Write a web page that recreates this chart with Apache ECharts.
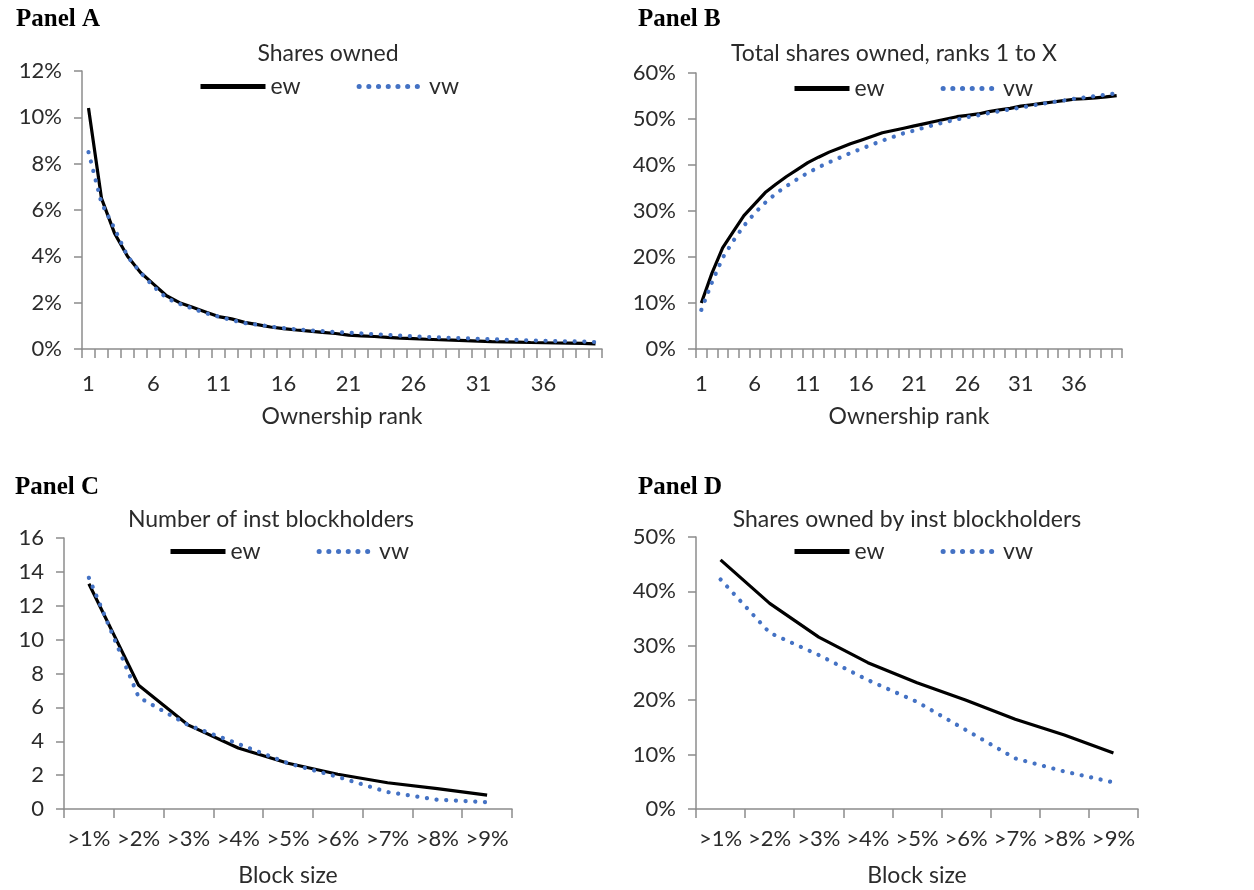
<!DOCTYPE html>
<html>
<head>
<meta charset="utf-8">
<script src="https://cdn.jsdelivr.net/npm/echarts@6/dist/echarts.min.js"></script>
<style>
html,body{margin:0;padding:0;background:#fff;}
#chart{width:1254px;height:890px;}
</style>
</head>
<body>
<div id="chart"></div>
<script>
// ---- data ----
const ranks = ['1','2','3','4','5','6','7','8','9','10','11','12','13','14','15','16','17','18','19','20',
               '21','22','23','24','25','26','27','28','29','30','31','32','33','34','35','36','37','38','39','40'];
const blockSizes = ['>1%','>2%','>3%','>4%','>5%','>6%','>7%','>8%','>9%'];

// Panel A: shares owned (%) by ownership rank
const aEw = [10.4,6.5,5.0,4.0,3.3,2.8,2.3,2.0,1.8,1.6,1.4,1.3,1.15,1.05,0.95,0.88,0.82,0.77,0.72,0.67,
             0.6,0.57,0.54,0.5,0.47,0.45,0.42,0.4,0.38,0.36,0.34,0.32,0.31,0.3,0.28,0.27,0.26,0.25,0.24,0.22];
const aVw = [8.5,6.3,5.2,4.0,3.3,2.7,2.2,1.95,1.75,1.55,1.4,1.25,1.12,1.05,0.97,0.9,0.85,0.8,0.77,0.73,
             0.7,0.67,0.64,0.61,0.58,0.55,0.52,0.5,0.48,0.46,0.44,0.42,0.4,0.39,0.37,0.36,0.34,0.33,0.32,0.3];
// Panel B: total shares owned, ranks 1 to X (%)
const bEw = [10,16.5,22,25.5,29,31.5,34,35.8,37.5,39,40.5,41.7,42.8,43.7,44.6,45.4,46.2,47,47.5,48,
             48.5,49,49.5,50,50.5,50.8,51.1,51.6,52,52.3,52.8,53.1,53.4,53.7,54,54.3,54.4,54.6,54.8,55.1];
const bVw = [8.5,14.5,19.8,23.5,26.8,29.5,31.8,33.8,35.4,36.9,38.3,39.5,40.6,41.6,42.6,43.5,44.4,45.3,46.1,46.9,
             47.5,48.2,48.8,49.4,49.9,50.4,50.8,51.3,51.7,52.1,52.5,52.9,53.3,53.7,54,54.4,54.7,55,55.3,55.6];
// Panel C: number of inst blockholders
const cEw = [13.3,7.3,4.95,3.6,2.7,2.05,1.55,1.2,0.82];
const cVw = [13.65,6.6,4.95,3.85,2.7,1.9,1.0,0.55,0.4];
// Panel D: shares owned by inst blockholders (%)
const dEw = [45.8,37.8,31.6,26.9,23.2,20,16.5,13.6,10.3];
const dVw = [42.2,32.4,28.3,23.7,19.7,14.5,9.3,6.9,4.9];

// ---- styling ----
const FONT = 'Lato';
const TXT = '#2b2b2b';
const AXC = '#8c8c8c';
const FS = 23;
const EW_STYLE = {color:'#000000', width:3.2, type:'solid'};
const VW_STYLE = {color:'#4472C4', width:4.2, type:[0.1, 9.6], cap:'round'};
const EW_LEG = {color:'#000000', width:5, type:'solid', opacity:1};
const VW_LEG = {color:'#4472C4', width:5, type:[0.1, 9.6], cap:'round', opacity:1};

const grids = [
  {left:82, right:652, top:71, bottom:541},
  {left:696, right:132, top:73, bottom:541},
  {left:64, right:742, top:538, bottom:81},
  {left:696, right:116, top:537, bottom:81}
];

function xAxisFor(i, cats, isRank, name, margin) {
  return {
    type:'category', gridIndex:i, data:cats, boundaryGap:true,
    name:name, nameLocation:'middle', nameGap: isRank ? 56 : 55,
    nameTextStyle:{fontFamily:FONT, fontSize:FS, color:TXT},
    axisLine:{lineStyle:{color:AXC, width:1.5}},
    axisTick:{show:true, interval:0, length:9, lineStyle:{color:AXC, width:1.5}},
    axisLabel:{interval: isRank ? 4 : 0, fontFamily:FONT, fontSize:22, color:TXT, margin:margin},
    splitLine:{show:false}
  };
}
function yAxisFor(i, max, interval, pct) {
  return {
    type:'value', gridIndex:i, min:0, max:max, interval:interval,
    axisLine:{show:true, lineStyle:{color:AXC, width:1.5}},
    axisTick:{show:true, length:8, lineStyle:{color:AXC, width:1.5}},
    axisLabel:{fontFamily:FONT, fontSize:22, color:TXT, margin:20,
      formatter: pct ? '{value}%' : '{value}'},
    splitLine:{show:false}
  };
}
function lineSeries(name, i, data, style) {
  return {
    type:'line', name:name, xAxisIndex:i, yAxisIndex:i, data:data,
    symbol:'none', showSymbol:false, smooth:false, lineStyle:style, color:style.color,
    animation:false
  };
}
function legendFor(i, left, top, w) {
  return {
    left:left, top:top, itemWidth:w, itemHeight:14, itemGap:56,
    data:[
      {name:'ew', itemStyle:{opacity:0}, lineStyle:EW_LEG},
      {name:'vw', itemStyle:{opacity:0}, lineStyle:VW_LEG}
    ],
    itemStyle:{opacity:0},
    textStyle:{fontFamily:FONT, fontSize:FS, color:TXT},
    selectedMode:false
  };
}
function titleFor(text, cx, top) {
  return {text:text, left:cx, top:top, textAlign:'center',
    textStyle:{fontFamily:FONT, fontSize:FS, fontWeight:'normal', color:TXT}};
}
function panelLabel(text, left, top) {
  return {text:text, left:left, top:top,
    textStyle:{fontFamily:'Liberation Serif', fontSize:25, fontWeight:'bold', color:'#000'}};
}

const option = {
  backgroundColor:'#ffffff',
  animation:false,
  title:[
    panelLabel('Panel A', 11, 2),
    panelLabel('Panel B', 633, 2),
    panelLabel('Panel C', 10, 470),
    panelLabel('Panel D', 633, 470),
    titleFor('Shares owned', 323, 37),
    titleFor('Total shares owned, ranks 1 to X', 889, 37),
    titleFor('Number of inst blockholders', 266, 503),
    titleFor('Shares owned by inst blockholders', 902, 503)
  ],
  legend:[
    legendFor(0, 193, 70, 65),
    legendFor(1, 787, 72, 55),
    legendFor(2, 163, 535, 55),
    legendFor(3, 787, 535, 55)
  ],
  grid:grids,
  xAxis:[
    xAxisFor(0, ranks, true, 'Ownership rank', 24),
    xAxisFor(1, ranks, true, 'Ownership rank', 24),
    xAxisFor(2, blockSizes, false, 'Block size', 19),
    xAxisFor(3, blockSizes, false, 'Block size', 19)
  ],
  yAxis:[
    yAxisFor(0, 12, 2, true),
    yAxisFor(1, 60, 10, true),
    yAxisFor(2, 16, 2, false),
    yAxisFor(3, 50, 10, true)
  ],
  series:[
    lineSeries('ew', 0, aEw, EW_STYLE),
    lineSeries('vw', 0, aVw, VW_STYLE),
    lineSeries('ew', 1, bEw, EW_STYLE),
    lineSeries('vw', 1, bVw, VW_STYLE),
    lineSeries('ew', 2, cEw, EW_STYLE),
    lineSeries('vw', 2, cVw, VW_STYLE),
    lineSeries('ew', 3, dEw, EW_STYLE),
    lineSeries('vw', 3, dVw, VW_STYLE)
  ]
};

const chart = echarts.init(document.getElementById('chart'), null, {renderer:'canvas'});
chart.setOption(option);
</script>
</body>
</html>
